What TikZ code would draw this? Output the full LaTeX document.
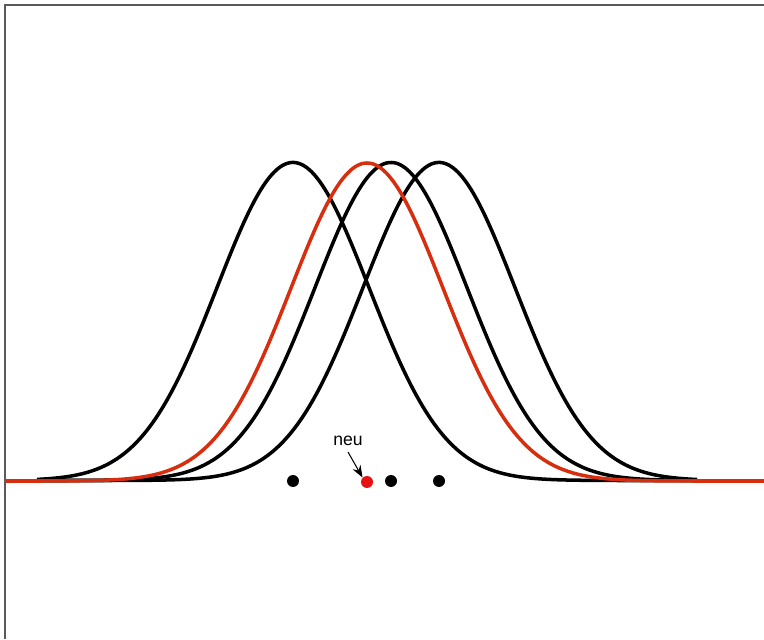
\documentclass[tikz,border=0pt]{standalone}
\usepackage{fontspec}
\setsansfont{Liberation Sans}
\usetikzlibrary{arrows.meta}
\definecolor{curvered}{RGB}{214,46,14}
\definecolor{dotred}{RGB}{232,18,18}
\definecolor{framegray}{RGB}{90,90,90}
\tikzset{
  bell/.style={line width=2pt,samples=150,smooth},
  dot/.style={circle,fill=black,inner sep=0pt,minimum size=0.24cm},
}
\begin{document}
\begin{tikzpicture}[x=0.02cm,y=0.02cm]
  \useasboundingbox (0,0) rectangle (764,639);
  \draw[framegray,line width=1.2pt] (5,0) -- (5,634) -- (764,634);
  % black curves and their points
  \foreach \m/\nm in {293/a, 391/b, 439/c} {
    \draw[bell,domain=37:697] plot (\x,{158.5+318*exp(-0.5*((\x-\m)/76)^2)});
    \node[dot] (p\nm) at (\m,158) {};
  }
  % new curve
  \draw[bell,curvered,domain=5:764] plot (\x,{158+318*exp(-0.5*((\x-367)/76)^2)});
  \node[dot,fill=dotred] (pnew) at (367,157) {};
  \node[font=\sffamily\fontsize{10}{11}\selectfont] (lbl) at (348,198) {neu};
  \draw[-{Stealth[length=2.4mm,width=1.8mm]},line width=0.6pt] (lbl.south) -- (pnew.north west);
\end{tikzpicture}
\end{document}
